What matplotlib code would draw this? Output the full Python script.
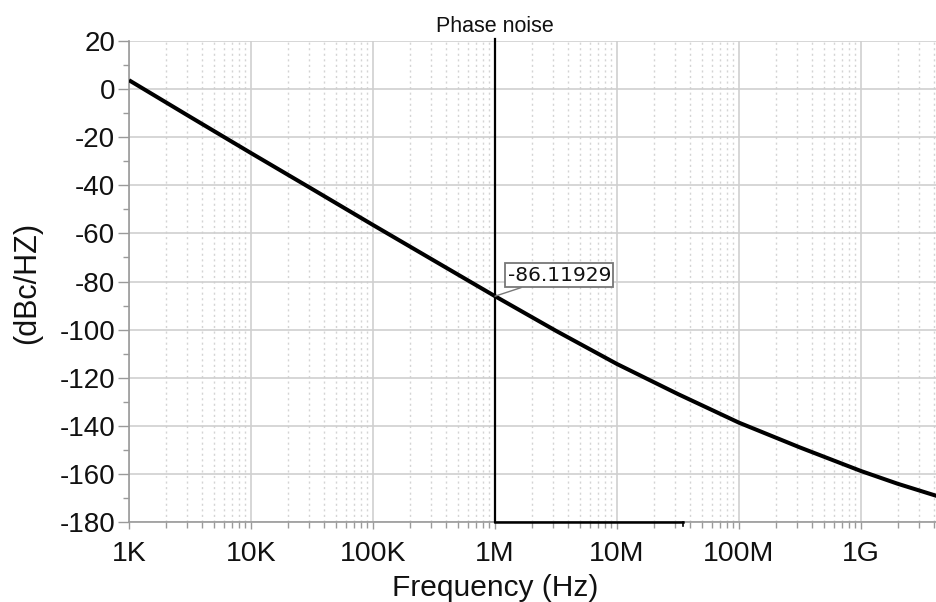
import numpy as np
import matplotlib
matplotlib.use("Agg")
import matplotlib.pyplot as plt
from matplotlib.ticker import FixedLocator, FixedFormatter, LogLocator, NullFormatter

plt.rcParams['font.family'] = ['Liberation Sans', 'DejaVu Sans']

# Data
freq_hz = [1e3, 3.16e3, 1e4, 3.16e4, 1e5, 3.16e5, 1e6, 3.16e6, 1e7, 3.16e7,
           1e8, 3.16e8, 1e9, 2e9, 4.2e9]
noise_dbc = [3.7, -11.5, -26.6, -41.5, -56.5, -71.3, -86.1, -100.5, -114.3,
             -126.8, -138.7, -149.0, -158.8, -164.1, -169.2]

x_ticks = [1e3, 1e4, 1e5, 1e6, 1e7, 1e8, 1e9]
x_tick_labels = ["1K", "10K", "100K", "1M", "10M", "100M", "1G"]
y_ticks = [20, 0, -20, -40, -60, -80, -100, -120, -140, -160, -180]
y_tick_labels = ["20", "0", "-20", "-40", "-60", "-80", "-100", "-120",
                 "-140", "-160", "-180"]

cursor_freq = 1e6
cursor_value = -86.11929
cursor2_freq = 3.5e7

fig = plt.figure(figsize=(9.37, 6.02), dpi=100)
ax = fig.add_axes([129/937, 1-522/602, 1-129/937, (522-41)/602])

ax.set_xscale('log')
ax.set_xlim(1e3, 4.2e9)
ax.set_ylim(-180, 20)

# grid
ax.xaxis.set_major_locator(FixedLocator(x_ticks))
ax.xaxis.set_major_formatter(FixedFormatter(x_tick_labels))
ax.xaxis.set_minor_locator(LogLocator(base=10, subs=np.arange(2, 10)))
ax.xaxis.set_minor_formatter(NullFormatter())
ax.yaxis.set_major_locator(FixedLocator(y_ticks))
ax.yaxis.set_major_formatter(FixedFormatter(y_tick_labels))
ax.yaxis.set_minor_locator(FixedLocator(np.arange(-170, 20, 20)))

ax.grid(True, which='major', axis='both', color='#cfcfcf', linewidth=1.2, linestyle='-')
ax.grid(True, which='minor', axis='x', color='#d4d4d4', linewidth=1.0, linestyle=(0, (1.5, 2.5)))
ax.set_axisbelow(True)

for s in ['top', 'right']:
    ax.spines[s].set_visible(False)
for s in ['left', 'bottom']:
    ax.spines[s].set_color('#9a9a9a')
    ax.spines[s].set_linewidth(1.2)

ax.tick_params(axis='y', which='major', length=8, width=1.0, color='#9a9a9a',
               labelsize=20, pad=2, labelcolor='#111111')
ax.tick_params(axis='y', which='minor', length=4, width=1.0, color='#9a9a9a')
ax.tick_params(axis='x', which='major', length=5, width=1.0, color='#9a9a9a',
               labelsize=20.5, pad=9, labelcolor='#111111')
ax.tick_params(axis='x', which='minor', length=4, width=1.0, color='#9a9a9a')

# curve
ax.plot(freq_hz, noise_dbc, color='black', linewidth=2.9, solid_capstyle='butt', zorder=5)

# cursor
ax.plot([cursor_freq, cursor_freq], [-180, 21], color='black', linewidth=1.6,
        clip_on=False, zorder=6)
ax.plot([cursor_freq, cursor2_freq], [-180, -180], color='black', linewidth=1.8,
        clip_on=False, zorder=6)
ax.plot([cursor2_freq, cursor2_freq], [-180, -181.5], color='black', linewidth=1.2,
        clip_on=False, zorder=6)

ax.annotate(f"{cursor_value:.5f}", xy=(cursor_freq, cursor_value),
            xytext=(1.27e6, -77.3), textcoords='data',
            fontsize=14.5, family=['DejaVu Sans'], color='#111111',
            ha='left', va='center',
            bbox=dict(boxstyle='square,pad=0.12', fc='white', ec='#777777', lw=1.3),
            arrowprops=dict(arrowstyle='-', color='#777777', lw=1.0,
                            shrinkA=0, shrinkB=0), zorder=7)

fig.text(495/937, 1-27/602, "Phase noise", fontsize=15.5, ha='center', va='center',
         color='#111111')
fig.text(495/937, 1-588/602, "Frequency (Hz)", fontsize=21.5, ha='center', va='center',
         color='#111111')
fig.text(27/937, 1-283/602, "(dBc/HZ)", fontsize=22, ha='center', va='center',
         rotation=90, color='#111111')

fig.savefig("out.png", dpi=100)
